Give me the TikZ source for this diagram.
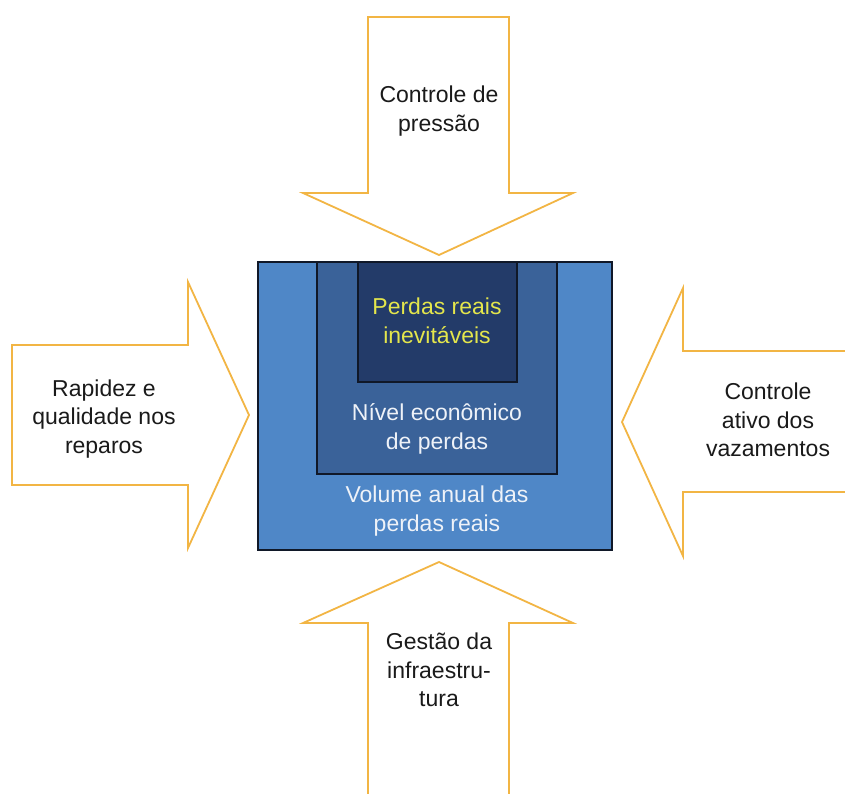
\documentclass[tikz,border=0pt]{standalone}
\usepackage{fontspec}
\setmainfont{Liberation Sans}
\definecolor{arrowc}{HTML}{F2B544}
\definecolor{outerc}{HTML}{4F87C7}
\definecolor{midc}{HTML}{3A6299}
\definecolor{innerc}{HTML}{233B69}
\definecolor{boxline}{HTML}{101828}
\definecolor{yelt}{HTML}{E4E64C}
\definecolor{lightt}{HTML}{EEF2F8}
\definecolor{textc}{HTML}{1A1A1A}
\begin{document}
\begin{tikzpicture}[x=1pt,y=-1pt,
  bigarrow/.style={draw=arrowc,fill=white,line width=1.8pt,line join=miter},
  lbl/.style={align=center,font=\fontsize{23}{28.5}\selectfont,inner sep=0pt},
  boxr/.style={draw=boxline,line width=1.6pt}]
\useasboundingbox (0,0) rectangle (845,793);
% top arrow
\draw[bigarrow] (368,17) -- (509,17) -- (509,193) -- (573,193) -- (439,255) -- (303,193) -- (368,193) -- cycle;
% left arrow
\draw[bigarrow] (12,345) -- (188,345) -- (188,282) -- (249,415) -- (188,548) -- (188,485) -- (12,485) -- cycle;
% right arrow
\draw[bigarrow] (850,351) -- (683,351) -- (683,288) -- (622,422) -- (683,556) -- (683,492) -- (850,492);
% bottom arrow
\draw[bigarrow] (368,800) -- (368,623) -- (303,623) -- (439,562) -- (573,623) -- (509,623) -- (509,800);
% boxes
\draw[boxr,fill=outerc] (258,262) rectangle (612,550);
\draw[boxr,fill=midc] (317,262) rectangle (557,474);
\draw[boxr,fill=innerc] (358,262) rectangle (517,382);
% labels
\node[lbl,text=textc] (top) at (439,111) {Controle de\\pressão};
\node[lbl,text=textc] (left) at (104,419) {Rapidez e\\qualidade nos\\reparos};
\node[lbl,text=textc] (right) at (768,420) {Controle\\ativo dos\\vazamentos};
\node[lbl,text=textc] (bottom) at (439,670) {Gestão da\\infraestru-\\tura};
\node[lbl,text=yelt] (inner) at (437,321) {Perdas reais\\inevitáveis};
\node[lbl,text=lightt] (mid) at (437,429) {Nível econômico\\de perdas};
\node[lbl,text=lightt] (outer) at (437,511) {Volume anual das\\perdas reais};
\end{tikzpicture}
\end{document}
